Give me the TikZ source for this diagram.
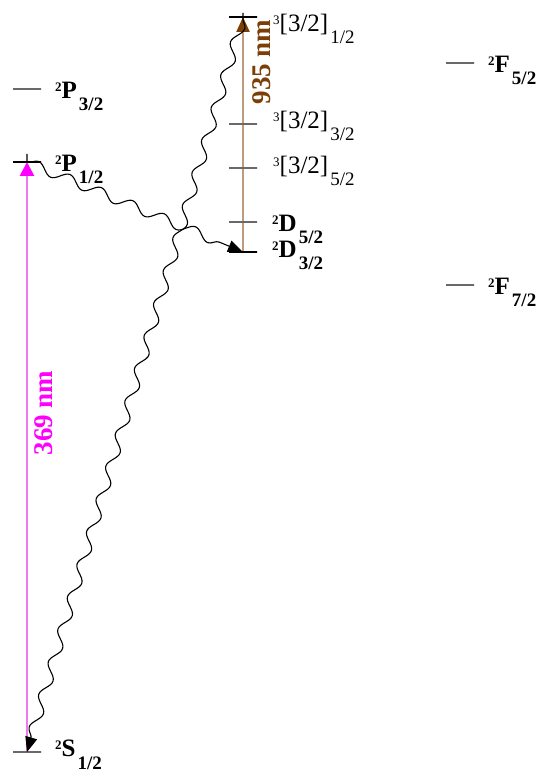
\documentclass[tikz,border=0pt]{standalone}
\usepackage{fontspec}
\setmainfont{Liberation Serif}
\usetikzlibrary{arrows.meta,positioning,decorations.pathmorphing}
\pgfdeclarelayer{bg}
\pgfsetlayers{bg,main}
\definecolor{levgray}{RGB}{105,105,105}
\definecolor{pinkline}{RGB}{242,120,242}
\definecolor{puremag}{RGB}{255,0,255}
\definecolor{tanline}{RGB}{190,155,125}
\definecolor{darkbrown}{RGB}{122,62,6}
% term symbol: superscript, letter, subscript
\newcommand{\term}[3]{\raisebox{7.5pt}{\fontsize{13}{13}\selectfont #1}#2\hspace{2pt}\raisebox{-12pt}{\fontsize{19}{19}\selectfont #3}}

\begin{document}
\begin{tikzpicture}[x=1pt,y=1pt,
  lev/.style={draw=levgray,line width=1.4pt,minimum width=28pt,minimum height=0pt,inner sep=0pt,outer sep=0pt},
  lbl/.style={anchor=base west,inner sep=0pt,font=\fontsize{25}{25}\selectfont\bfseries},
  decay/.style={draw=black,line width=1.1pt,decorate,decoration={snake,amplitude=5pt,segment length=34pt,post length=12pt},-{Triangle[length=15pt,width=12pt]}},
  laser/.style={line width=2.8pt}
]
\useasboundingbox (0,0) rectangle (546,778);

% levels
\node[lev] (P32) at (27,689) {};
\node[lev,draw=black] (P12) at (27,616) {};
\node[lev] (S12) at (27,26) {};
\node[lev,draw=black] (T12) at (243,761) {};
\node[lev] (T32) at (243,654) {};
\node[lev] (T52) at (243,610) {};
\node[lev] (D52) at (243,556) {};
\node[lev,draw=black] (D32) at (243,526) {};
\node[lev] (F52) at (460,715) {};
\node[lev] (F72) at (460,493) {};

% labels
\node[lbl,right=14pt of P32,anchor=base west,yshift=-10pt] (lP32) {\term{2}{P}{3/2}};
\node[lbl,right=14pt of P12,anchor=base west,yshift=-10pt] (lP12) {\term{2}{P}{1/2}};
\node[lbl,right=14pt of S12,anchor=base west,yshift=-5pt] (lS12) {\term{2}{S}{1/2}};
\node[lbl,right=16pt of T12,anchor=base west,yshift=-15pt,font=\fontsize{25}{25}\selectfont] (lT12) {\term{3}{[3/2]}{1/2}};
\node[lbl,right=16pt of T32,anchor=base west,yshift=-5pt,font=\fontsize{25}{25}\selectfont] (lT32) {\term{3}{[3/2]}{3/2}};
\node[lbl,right=16pt of T52,anchor=base west,yshift=-6pt,font=\fontsize{25}{25}\selectfont] (lT52) {\term{3}{[3/2]}{5/2}};
\node[lbl,right=15pt of D52,anchor=base west,yshift=-10pt] (lD52) {\term{2}{D}{5/2}};
\node[lbl,right=15pt of D32,anchor=base west,yshift=-6pt] (lD32) {\term{2}{D}{3/2}};
\node[lbl,right=14pt of F52,anchor=base west,yshift=-10pt] (lF52) {\term{2}{F}{5/2}};
\node[lbl,right=14pt of F72,anchor=base west,yshift=-10pt] (lF72) {\term{2}{F}{7/2}};

% lasers
\begin{pgfonlayer}{bg}
\draw[laser,pinkline,-{Triangle[length=14pt,width=14pt,color=puremag]}] (S12) -- (P12);
\draw[laser,tanline,line width=2.2pt,-{Triangle[length=15pt,width=13pt,color=darkbrown]}] (D32) -- (T12);
\end{pgfonlayer}
\node[rotate=90,text=puremag,font=\fontsize{27}{27}\selectfont\bfseries] (w369) at (44,365) {369 nm};
\node[rotate=90,text=darkbrown,font=\fontsize{27}{27}\selectfont\bfseries] (w935) at (262,716) {935 nm};

% decays
\draw[decay,shorten <=8pt] (P12) -- (D32);
\draw[decay,shorten <=4pt] (T12) -- (S12);
\end{tikzpicture}
\end{document}
